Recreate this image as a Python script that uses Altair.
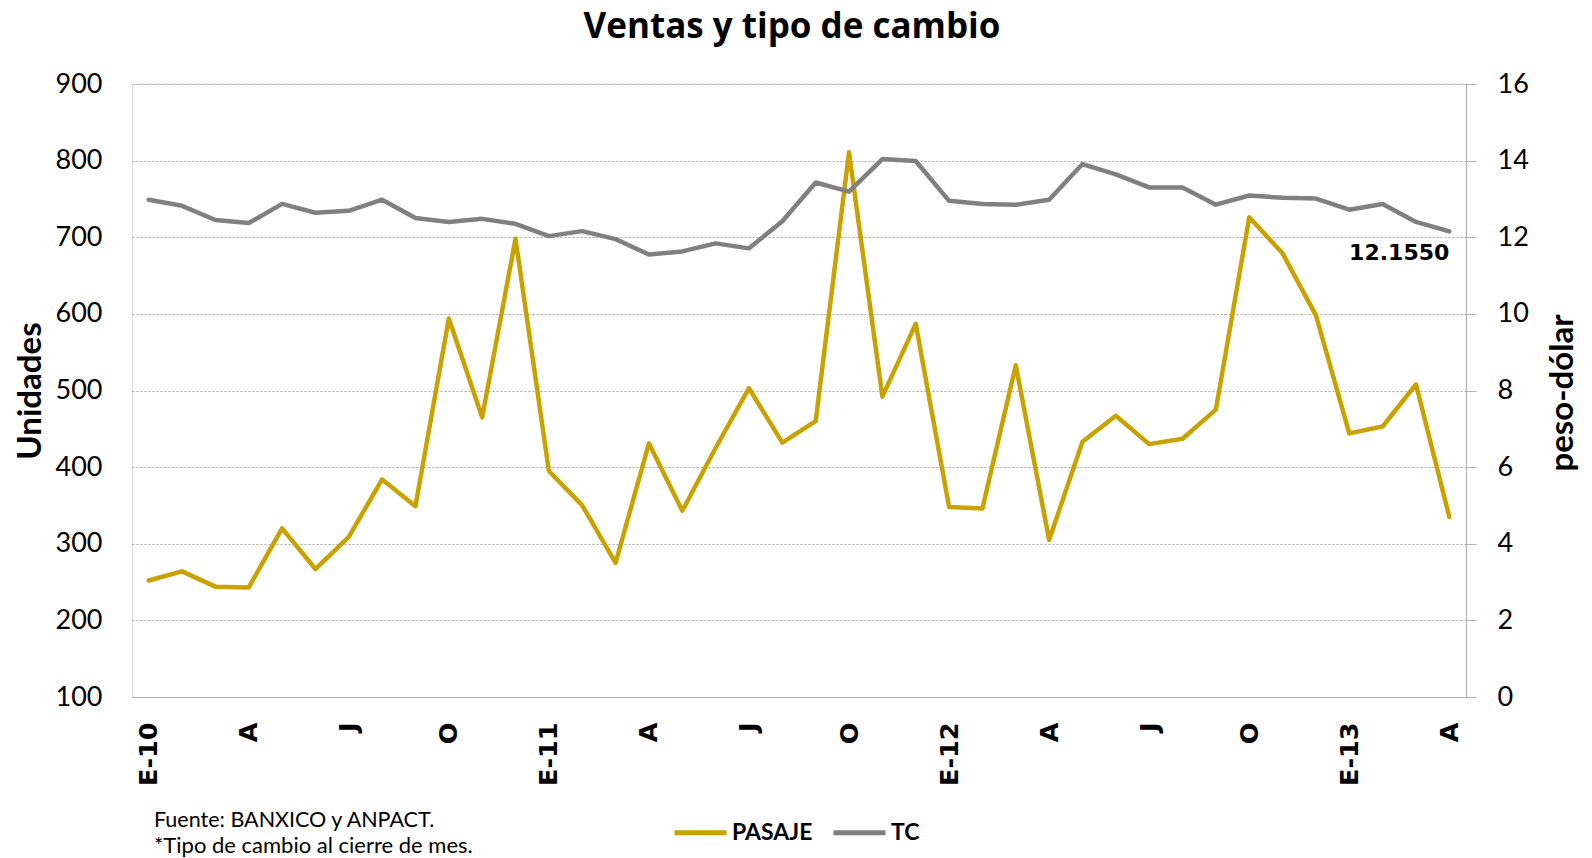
import altair as alt
import pandas as pd

# Months Jan-2010 .. Apr-2013
meses = ["E-10", "", "", "A", "", "", "J", "", "", "O", "", "",
         "E-11", "", "", "A", "", "", "J", "", "", "O", "", "",
         "E-12", "", "", "A", "", "", "J", "", "", "O", "", "",
         "E-13", "", "", "A"]

pasaje = [252, 264, 244, 243, 320, 267, 309, 384, 349, 594, 465, 698,
          395, 350, 275, 431, 343, 425, 503, 432, 460, 811, 492, 587,
          348, 346, 533, 305, 433, 467, 430, 437, 475, 726, 679, 598,
          444, 453, 508, 335]

tc = [12.98, 12.82, 12.45, 12.37, 12.87, 12.64, 12.69, 12.98, 12.50, 12.40, 12.48, 12.35,
      12.03, 12.16, 11.95, 11.55, 11.63, 11.84, 11.71, 12.42, 13.43, 13.19, 14.04, 13.99,
      12.95, 12.87, 12.85, 12.98, 13.91, 13.64, 13.30, 13.30, 12.85, 13.09, 13.03, 13.01,
      12.72, 12.87, 12.40, 12.155]

series = ["PASAJE", "TC"]
colores = ["#C9A200", "#808080"]

titulo = ["Ventas y tipo de cambio"]
notas_txt = ["Fuente: BANXICO y ANPACT.", "*Tipo de cambio al cierre de mes."]

df = pd.DataFrame({"idx": list(range(len(meses))), "pasaje": pasaje, "tc": tc})
last = df.tail(1)

W, H = 1334, 613

label_array = "[" + ",".join("'" + m + "'" for m in meses) + "]"
tick_vals = [i for i, m in enumerate(meses) if m]

x_enc = alt.X(
    "idx:Q",
    scale=alt.Scale(domain=[-0.5, len(meses) - 0.5], nice=False, zero=False),
    axis=alt.Axis(
        values=tick_vals,
        labelExpr=label_array + "[datum.value]",
        labelAngle=270,
        labelAlign="right",
        labelBaseline="middle",
        labelFont="DejaVu Sans",
        labelFontWeight="bold",
        labelFontSize=25.5,
        labelColor="#000000",
        labelPadding=25,
        ticks=False,
        grid=False,
        domain=True,
        domainColor="#b3b3b3",
        domainWidth=1.2,
        title=None,
        labelOverlap=False,
    ),
)

color_scale = alt.Scale(domain=series, range=colores)
legend = alt.Legend(
    title=None,
    orient="none",
    legendX=540,
    legendY=720,
    direction="horizontal",
    symbolType="stroke",
    symbolSize=2704,
    symbolStrokeWidth=5,
    labelFont="Lato",
    labelFontWeight="bold",
    labelFontSize=23,
    labelColor="#000000",
    labelOffset=3,
    columnPadding=10,
    padding=0,
)

y_left = alt.Y(
    "pasaje:Q",
    scale=alt.Scale(domain=[100, 900], nice=False, zero=False),
    axis=alt.Axis(
        orient="left",
        values=list(range(100, 901, 100)),
        grid=True,
        gridColor="#a6a6a6",
        gridDash=[2, 2],
        gridWidth=1,
        domain=False,
        ticks=False,
        labelFont="Lato",
        labelFontSize=27,
        labelColor="#000000",
        labelPadding=30,
        title="Unidades",
        titleFont="Lato",
        titleFontSize=33,
        titleFontWeight="bold",
        titleColor="#000000",
        titleAngle=270,
        titleBaseline="middle",
        titleAlign="center",
        titleX=-102,
        titleY=H / 2,
    ),
)

y_right_axis = alt.Axis(
    orient="right",
    values=list(range(0, 17, 2)),
    grid=False,
    domain=True,
    domainColor="#b3b3b3",
    domainWidth=1.2,
    ticks=True,
    tickColor="#b3b3b3",
    tickSize=10,
    labelFont="Lato",
    labelFontSize=27,
    labelColor="#000000",
    labelPadding=21,
    title="peso-dólar",
    titleFont="Lato",
    titleFontSize=33,
    titleFontWeight="bold",
    titleColor="#000000",
    titleAngle=270,
    titleBaseline="middle",
    titleAlign="center",
    titleX=96,
    titleY=H / 2 + 2,
)
y_right_scale = alt.Scale(domain=[0, 16], nice=False, zero=False)

base = alt.Chart(df)

line_pasaje = base.mark_line(strokeWidth=4.5, strokeJoin="round", strokeCap="round").transform_calculate(
    serie="'PASAJE'"
).encode(
    x=x_enc,
    y=y_left,
    color=alt.Color("serie:N", scale=color_scale, legend=legend),
)

line_tc = base.mark_line(strokeWidth=4.5, strokeJoin="round", strokeCap="round").transform_calculate(
    serie="'TC'"
).encode(
    x=x_enc,
    y=alt.Y("tc:Q", scale=y_right_scale, axis=y_right_axis),
    color=alt.Color("serie:N", scale=color_scale, legend=legend),
)

tc_label = alt.Chart(last).mark_text(
    align="right", baseline="middle", dy=22, font="DejaVu Sans",
    fontWeight="bold", fontSize=22, color="#000000",
).encode(
    x=x_enc,
    y=alt.Y("tc:Q", scale=y_right_scale, axis=y_right_axis),
    text=alt.Text("tc:Q", format=".4f"),
)

titulo_mark = alt.Chart(pd.DataFrame({"t": titulo})).mark_text(
    align="center", baseline="middle", font="Open Sans", fontSize=35,
    fontWeight="bold", color="#000000",
).encode(x=alt.value(660), y=alt.value(-57), text="t:N")

notas = pd.DataFrame({"t": notas_txt})
nota1 = alt.Chart(notas.head(1)).mark_text(
    align="left", baseline="middle", font="Lato", fontSize=21.5, color="#000000"
).encode(x=alt.value(22), y=alt.value(737), text="t:N")
nota2 = alt.Chart(notas.tail(1)).mark_text(
    align="left", baseline="middle", font="Lato", fontSize=22, color="#000000"
).encode(x=alt.value(22), y=alt.value(762), text="t:N")

chart = alt.layer(
    line_pasaje,
    alt.layer(line_tc, tc_label),
    titulo_mark,
    nota1,
    nota2,
).resolve_scale(y="independent").properties(
    width=W,
    height=H,
    autosize=alt.AutoSizeParams(type="none"),
    padding={"left": 124, "top": 76, "right": 118, "bottom": 161},
).configure_view(stroke=None).configure(background="#ffffff")

chart.save("out.html", embed_options={"renderer": "svg", "actions": False})
